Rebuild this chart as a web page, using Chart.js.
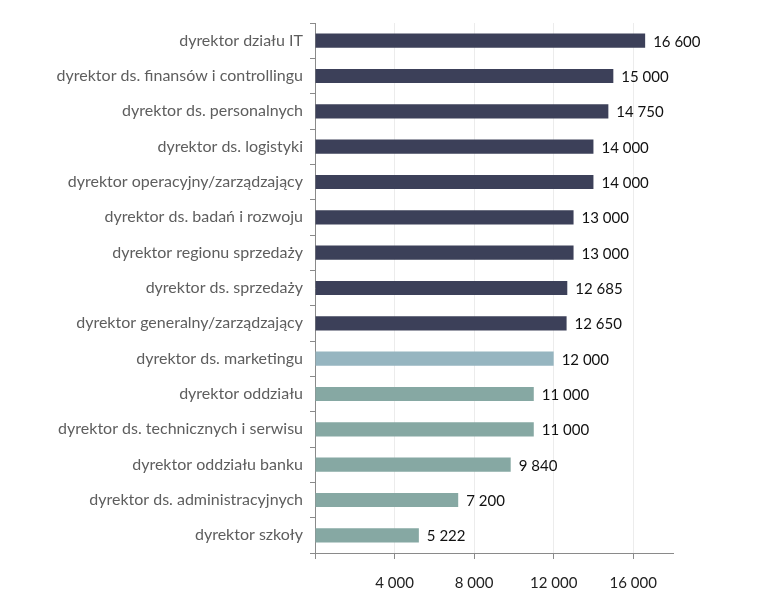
<!DOCTYPE html>
<html>
<head>
<meta charset="utf-8">
<script src="https://cdn.jsdelivr.net/npm/chart.js@4/dist/chart.umd.min.js"></script>
<style>
  html, body { margin: 0; padding: 0; background: #fff; }
  #wrap { width: 767px; height: 613px; }
</style>
</head>
<body>
<div id="wrap"><canvas id="salaryChart"></canvas></div>
<script>
let categories = [
    'dyrektor działu IT',
    'dyrektor ds. finansów i controllingu',
    'dyrektor ds. personalnych',
    'dyrektor ds. logistyki',
    'dyrektor operacyjny/zarządzający',
    'dyrektor ds. badań i rozwoju',
    'dyrektor regionu sprzedaży',
    'dyrektor ds. sprzedaży',
    'dyrektor generalny/zarządzający',
    'dyrektor ds. marketingu',
    'dyrektor oddziału',
    'dyrektor ds. technicznych i serwisu',
    'dyrektor oddziału banku',
    'dyrektor ds. administracyjnych',
    'dyrektor szkoły'
];
let salaries = [16600, 15000, 14750, 14000, 14000, 13000, 13000, 12685, 12650, 12000, 11000, 11000, 9840, 7200, 5222];
let groups = ['top', 'top', 'top', 'top', 'top', 'top', 'top', 'top', 'top', 'mid', 'low', 'low', 'low', 'low', 'low'];
let xTicks = [4000, 8000, 12000, 16000];

let groupColors = { top: '#3c4059', mid: '#96b5c0', low: '#86a8a3' };

function fmt(v) {
    return String(v).replace(/\B(?=(\d{3})+(?!\d))/g, ' ');
}

// value labels at the end of each bar
let valueLabels = {
    id: 'valueLabels',
    afterDatasetsDraw(chart) {
        let c = chart.ctx;
        let meta = chart.getDatasetMeta(0);
        c.save();
        c.font = '15px Lato, "Open Sans", sans-serif';
        c.fillStyle = '#111';
        c.textBaseline = 'middle';
        c.textAlign = 'left';
        meta.data.forEach((bar, i) => {
            c.fillText(fmt(salaries[i]), bar.x + 8, bar.y + 1);
        });
        c.restore();
    }
};

let ctx = document.getElementById('salaryChart').getContext('2d');
let myChart = new Chart(ctx, {
    type: 'bar',
    data: {
        labels: categories,
        datasets: [{
            data: salaries,
            backgroundColor: groups.map(g => groupColors[g]),
            barPercentage: 0.4,
            categoryPercentage: 1.0,
            borderWidth: 0
        }]
    },
    options: {
        indexAxis: 'y',
        responsive: true,
        maintainAspectRatio: false,
        animation: false,
        layout: { padding: { top: 23, right: 94, bottom: 10, left: 0 } },
        plugins: {
            legend: { display: false },
            tooltip: { enabled: false }
        },
        scales: {
            x: {
                min: 0,
                max: 18000,
                afterBuildTicks: scale => {
                    scale.ticks = [0].concat(xTicks).map(v => ({ value: v }));
                },
                afterFit: scale => { scale.height = 50; },
                ticks: {
                    callback: v => v === 0 ? '' : fmt(v),
                    color: '#222',
                    font: { family: 'Lato, "Open Sans", sans-serif', size: 15 },
                    padding: 15
                },
                grid: {
                    color: ctx => ctx.tick && ctx.tick.value === 0 ? 'transparent' : '#ececec',
                    tickColor: '#8a8a8a',
                    tickLength: 6,
                    lineWidth: 1
                },
                border: { color: '#8a8a8a', width: 1 }
            },
            y: {
                afterFit: scale => { scale.width = 315; },
                ticks: {
                    color: '#5e5e5e',
                    font: { family: 'Lato, "Open Sans", sans-serif', size: 16 },
                    padding: 7
                },
                grid: {
                    offset: true,
                    drawOnChartArea: false,
                    tickColor: '#8a8a8a',
                    tickLength: 5
                },
                border: { color: '#8a8a8a', width: 1 }
            }
        }
    },
    plugins: [valueLabels]
});
</script>
</body>
</html>
